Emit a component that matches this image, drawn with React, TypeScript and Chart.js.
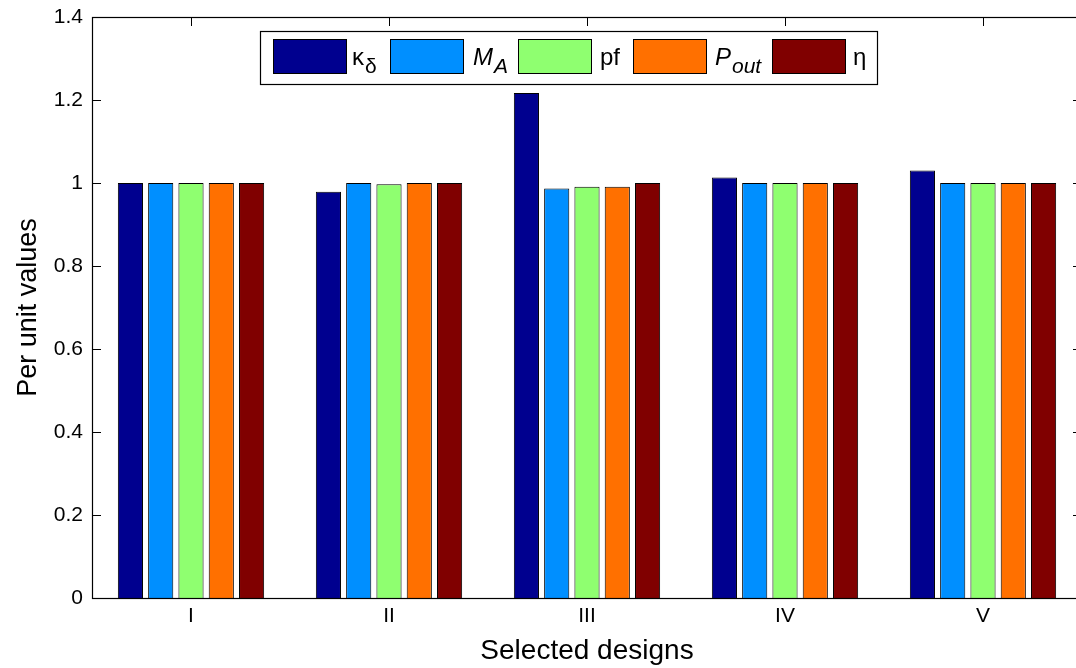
import React, { useEffect, useRef } from "react";
import { Chart, registerables } from "chart.js";

Chart.register(...registerables);

const categories = ["I", "II", "III", "IV", "V"];
const kappaDelta = [1.0, 0.979, 1.217, 1.013, 1.03];
const mA = [1.0, 1.0, 0.987, 1.0, 1.0];
const pf = [1.0, 0.997, 0.991, 1.0, 1.0];
const pOut = [1.0, 1.0, 0.991, 1.0, 1.0];
const eta = [1.0, 1.0, 1.0, 1.0, 1.0];
const yTickValues = [0, 0.2, 0.4, 0.6, 0.8, 1.0, 1.2, 1.4];

const seriesColors = ["#00008F", "#008FFF", "#8FFF70", "#FF7000", "#800000"];

const FONT = '"Liberation Sans", Arial, Helvetica, sans-serif';

type Part = { text: string; italic?: boolean; sub?: boolean };
const legendLabels: Part[][] = [
  [{ text: "κ" }, { text: "δ", sub: true }],
  [{ text: "M", italic: true }, { text: "A", italic: true, sub: true }],
  [{ text: "pf" }],
  [{ text: "P", italic: true }, { text: "out", italic: true, sub: true }],
  [{ text: "η" }],
];

const axesPlugin = {
  id: "matlabAxes",
  beforeDatasetsDraw(chart: any) {
    const { ctx, chartArea } = chart;
    const { left, right, top, bottom } = chartArea;
    const xs = chart.scales.x;
    const ys = chart.scales.y;
    ctx.save();
    ctx.strokeStyle = "#000";
    ctx.lineWidth = 1;
    ctx.beginPath();
    const tl = 9;
    yTickValues.forEach((v) => {
      const y = Math.round(ys.getPixelForValue(v)) + 0.5;
      ctx.moveTo(left, y);
      ctx.lineTo(left + tl, y);
      ctx.moveTo(right, y);
      ctx.lineTo(right - tl, y);
    });
    categories.forEach((_, i) => {
      const x = Math.round(xs.getPixelForValue(i)) + 0.5;
      ctx.moveTo(x, top);
      ctx.lineTo(x, top + tl);
      ctx.moveTo(x, bottom);
      ctx.lineTo(x, bottom - tl);
    });
    ctx.stroke();
    ctx.restore();
  },
  afterDatasetsDraw(chart: any) {
    const { ctx, chartArea } = chart;
    const { left, right, top, bottom } = chartArea;
    ctx.save();
    ctx.strokeStyle = "#000";
    ctx.lineWidth = 1.2;
    ctx.strokeRect(Math.round(left) + 0.5, Math.round(top) + 0.5, Math.round(right - left), Math.round(bottom - top));
    ctx.restore();

    // legend
    const lx = left + 168;
    const ly = top + 14;
    const lw = 617;
    const lh = 53;
    ctx.save();
    ctx.fillStyle = "#fff";
    ctx.fillRect(lx, ly, lw, lh);
    ctx.strokeStyle = "#000";
    ctx.lineWidth = 1.2;
    ctx.strokeRect(lx + 0.5, ly + 0.5, lw, lh);
    const swatchX = [13, 130, 258, 373, 512];
    const labelX = [92, 213, 340, 455, 593];
    const sw = 73;
    const sh = 34;
    const sy = ly + 8;
    const cy = sy + sh / 2;
    swatchX.forEach((sx, i) => {
      ctx.fillStyle = seriesColors[i];
      ctx.fillRect(lx + sx, sy, sw, sh);
      ctx.strokeStyle = "#000";
      ctx.lineWidth = 1;
      ctx.strokeRect(lx + sx + 0.5, sy + 0.5, sw, sh);
      let x = lx + labelX[i];
      ctx.fillStyle = "#000";
      ctx.textBaseline = "alphabetic";
      ctx.textAlign = "left";
      legendLabels[i].forEach((p) => {
        const size = p.sub ? 21 : 24;
        ctx.font = `${p.italic ? "italic " : ""}${size}px ${FONT}`;
        const base = p.sub ? cy + 17 : cy + 9;
        ctx.fillText(p.text, x, base);
        x += ctx.measureText(p.text).width + (p.sub ? 0 : 1);
      });
    });
    ctx.restore();
  },
};

export default function App() {
  const ref = useRef<HTMLCanvasElement>(null);
  useEffect(() => {
    if (!ref.current) return;
    const mk = (label: string, data: number[], color: string) => ({
      label,
      data,
      backgroundColor: color,
      borderColor: "#000",
      borderWidth: 1,
      barPercentage: 0.83,
      categoryPercentage: 0.765,
    });
    const chart = new Chart(ref.current, {
      type: "bar",
      data: {
        labels: categories,
        datasets: [
          mk("κδ", kappaDelta, seriesColors[0]),
          mk("MA", mA, seriesColors[1]),
          mk("pf", pf, seriesColors[2]),
          mk("Pout", pOut, seriesColors[3]),
          mk("η", eta, seriesColors[4]),
        ],
      },
      options: {
        animation: false,
        responsive: false,
        devicePixelRatio: 1,
        layout: { padding: { top: 17, right: 8, left: 0, bottom: 0 } },
        plugins: { legend: { display: false }, tooltip: { enabled: false } },
        scales: {
          x: {
            grid: { display: false, drawTicks: false },
            border: { display: false },
            ticks: { color: "#000", font: { family: FONT, size: 21 }, padding: 6 },
            title: {
              display: true,
              text: "Selected designs",
              color: "#000",
              font: { family: FONT, size: 28 },
              padding: { top: 0, bottom: 0 },
            },
            afterFit: (s: any) => {
              s.height = 70;
              s.paddingLeft = 0;
              s.paddingRight = 0;
            },
          },
          y: {
            min: 0,
            max: 1.4,
            grid: { display: false, drawTicks: false },
            border: { display: false },
            afterBuildTicks: (s: any) => {
              s.ticks = yTickValues.map((v) => ({ value: v }));
            },
            ticks: {
              color: "#000",
              font: { family: FONT, size: 21 },
              padding: 9,
              callback: (v: any) => String(Number(Number(v).toFixed(1))),
            },
            title: {
              display: true,
              text: "Per unit values",
              color: "#000",
              font: { family: FONT, size: 27 },
              padding: { top: 12, bottom: 0 },
            },
            afterFit: (s: any) => {
              s.width = 92;
              s.paddingTop = 0;
              s.paddingBottom = 0;
            },
          },
        },
      },
      plugins: [axesPlugin],
    });
    return () => chart.destroy();
  }, []);
  return (
    <div style={{ position: "absolute", left: 0, top: 0, width: 1076, height: 668, overflow: "hidden", background: "#fff" }}>
      <canvas ref={ref} width={1090} height={668} style={{ display: "block" }} />
    </div>
  );
}
